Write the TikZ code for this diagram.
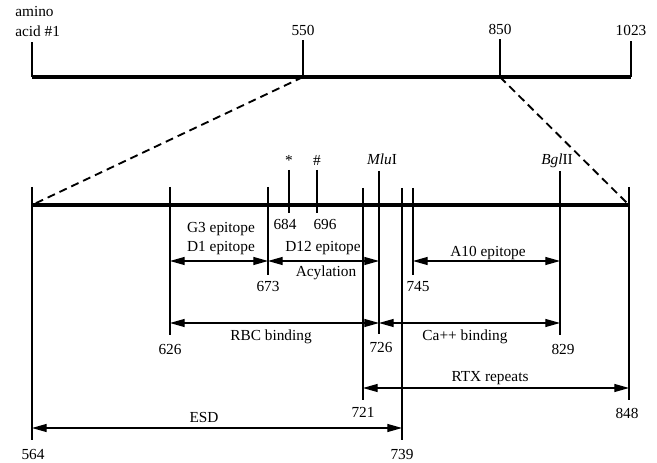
\documentclass[tikz,border=0pt]{standalone}
\usepackage{fontspec}
\setmainfont{Liberation Serif}
\usetikzlibrary{arrows.meta}

\begin{document}
\begin{tikzpicture}[x=0.75pt, y=-0.75pt,
          bar/.style={line width=3.3pt},
          tick/.style={line width=1.4pt},
          zoomline/.style={line width=1.4pt, dash pattern=on 6pt off 3.8pt},
          dim/.style={{Triangle[length=11pt,width=6pt]}-{Triangle[length=11pt,width=6pt]},
                      line width=0.9pt},
          lbl/.style={font=\fontsize{11.5}{13}\selectfont, inner sep=0pt, anchor=base}
        ]
        \useasboundingbox (0,0) rectangle (657,463);

        % whole protein
        \coordinate (a1)    at (32,77);
        \coordinate (a550)  at (303,77);
        \coordinate (a850)  at (500,77);
        \coordinate (a1023) at (631,77);
        \draw[bar] (a1) -- (a1023);
        \draw[tick] (a1)    -- +(0,-35);
        \draw[tick] (a550)  -- +(0,-37);
        \draw[tick] (a850)  -- +(0,-38);
        \draw[tick] (a1023) -- +(0,-36);

        \node[lbl, anchor=base west] (amino) at (15,17) {amino};
        \node[lbl, anchor=base west] (acid)  at (15,37) {acid \#1};
        \node[lbl] (n550)  at (303,36) {550};
        \node[lbl] (n850)  at (500,35) {850};
        \node[lbl] (n1023) at (631,36) {1023};

        % enlarged region 564--848
        \coordinate (z564) at (32,205);
        \coordinate (z848) at (629,205);
        \draw[bar, line width=3pt] (z564) -- (z848);
        \draw[zoomline] (a550) -- (z564);
        \draw[zoomline] (a850) -- (z848);

        \coordinate (u564) at (32,187);  \coordinate (d564) at (32,440);
        \coordinate (u626) at (170,187); \coordinate (d626) at (170,335);
        \coordinate (u673) at (268,187); \coordinate (d673) at (268,275);
        \coordinate (u684) at (289,170); \coordinate (d684) at (289,213);
        \coordinate (u696) at (317,170); \coordinate (d696) at (317,213);
        \coordinate (u721) at (363,188); \coordinate (d721) at (363,400);
        \coordinate (u726) at (379,171); \coordinate (d726) at (379,334);
        \coordinate (u739) at (402,188); \coordinate (d739) at (402,440);
        \coordinate (u745) at (413,188); \coordinate (d745) at (413,275);
        \coordinate (u829) at (560,171); \coordinate (d829) at (560,335);
        \coordinate (u848) at (629,187); \coordinate (d848) at (629,400);

        \draw[tick] (u564) -- (d564);
        \draw[tick] (u626) -- (d626);
        \draw[tick] (u673) -- (d673);
        \draw[tick] (u684) -- (d684);
        \draw[tick] (u696) -- (d696);
        \draw[tick] (u721) -- (d721);
        \draw[tick] (u726) -- (d726);
        \draw[tick] (u739) -- (d739);
        \draw[tick] (u745) -- (d745);
        \draw[tick] (u829) -- (d829);
        \draw[tick] (u848) -- (d848);

        % sites above the line
        \node[lbl] (star)  at (289,166) {*};
        \node[lbl] (hash)  at (317,166) {\#};
        \node[lbl] (mlu)   at (382,165) {\textit{Mlu}I};
        \node[lbl] (bgl)   at (557,165) {\textit{Bgl}II};

        % residue numbers
        \node[lbl] (n684) at (285,230) {684};
        \node[lbl] (n696) at (325,230) {696};
        \node[lbl] (n673) at (268,292) {673};
        \node[lbl] (n745) at (418,292) {745};
        \node[lbl] (n626) at (170,354) {626};
        \node[lbl] (n726) at (381,353) {726};
        \node[lbl] (n829) at (563,354) {829};
        \node[lbl] (n721) at (363,417) {721};
        \node[lbl] (n848) at (627,418) {848};
        \node[lbl] (n564) at (33,459)  {564};
        \node[lbl] (n739) at (402,459) {739};

        % domains
        \coordinate (yepi) at (0,261);
        \coordinate (ybnd) at (0,323);
        \coordinate (yrtx) at (0,388);
        \coordinate (yesd) at (0,428);

        \node[lbl] (g3)   at (221,233) {G3 epitope};
        \node[lbl] (d1)   at (221,252) {D1 epitope};
        \node[lbl] (d12)  at (323,252) {D12 epitope};
        \node[lbl] (acyl) at (326,277) {Acylation};
        \node[lbl] (a10)  at (488,257) {A10 epitope};
        \node[lbl] (rbc)  at (271,340) {RBC binding};
        \node[lbl] (ca)   at (465,340) {Ca++ binding};
        \node[lbl] (rtx)  at (490,381) {RTX repeats};
        \node[lbl] (esd)  at (204,422) {ESD};

        \draw[dim] (d626 |- yepi) -- (d673 |- yepi);
        \draw[dim] (d673 |- yepi) -- (d726 |- yepi);
        \draw[dim] (d745 |- yepi) -- (d829 |- yepi);
        \draw[dim] (d626 |- ybnd) -- (d726 |- ybnd);
        \draw[dim] (d726 |- ybnd) -- (d829 |- ybnd);
        \draw[dim] (d721 |- yrtx) -- (d848 |- yrtx);
        \draw[dim] (d564 |- yesd) -- (d739 |- yesd);
      \end{tikzpicture}
\end{document}
